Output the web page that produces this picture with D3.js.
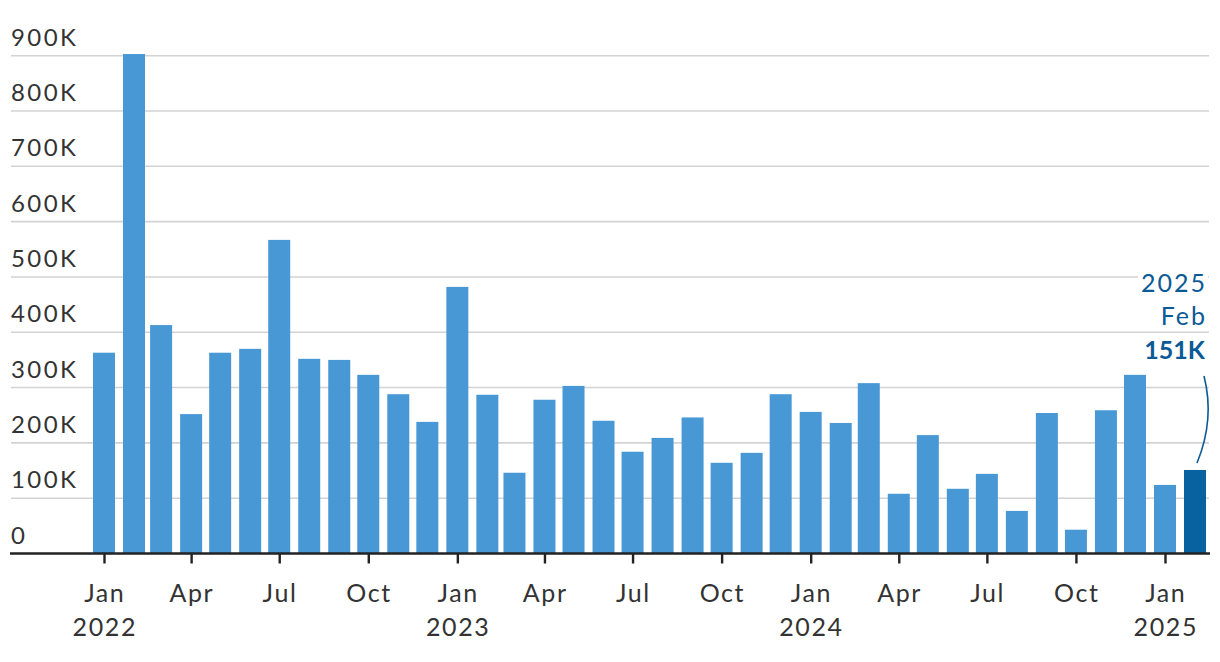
<!DOCTYPE html>
<html><head><meta charset="utf-8">
<script src="https://cdn.jsdelivr.net/npm/d3@7"></script>
<style>
html,body{margin:0;padding:0;background:#fff;}
svg{display:block;font-family:Lato,"Open Sans",sans-serif;}
</style></head>
<body><svg id="chart" width="1220" height="662"></svg>
<script>
// ---- data ----
const months = ["2022-01","2022-02","2022-03","2022-04","2022-05","2022-06","2022-07","2022-08","2022-09","2022-10","2022-11","2022-12",
"2023-01","2023-02","2023-03","2023-04","2023-05","2023-06","2023-07","2023-08","2023-09","2023-10","2023-11","2023-12",
"2024-01","2024-02","2024-03","2024-04","2024-05","2024-06","2024-07","2024-08","2024-09","2024-10","2024-11","2024-12",
"2025-01","2025-02"];
const values = [363,903,413,252,363,370,567,352,350,323,288,238,
482,287,146,278,303,240,184,209,246,164,182,288,
256,236,308,108,214,117,144,77,254,43,259,323,
124,151]; // thousands
const yTicks = [0,100,200,300,400,500,600,700,800,900];
const yTickLabels = ["0","100K","200K","300K","400K","500K","600K","700K","800K","900K"];
const xTickMonths = ["2022-01","2022-04","2022-07","2022-10","2023-01","2023-04","2023-07","2023-10","2024-01","2024-04","2024-07","2024-10","2025-01"];
const annotationLines = ["2025","Feb","151K"];

const parse = s => { const [y,m] = s.split("-").map(Number); return new Date(Date.UTC(y, m-1, 1)); };
const monthNames = ["Jan","Feb","Mar","Apr","May","Jun","Jul","Aug","Sep","Oct","Nov","Dec"];

const svg = d3.select("#chart");
const x = d3.scaleUtc().domain([parse(months[0]), parse(months[months.length-1])]).range([104, 1195]);
const y = d3.scaleLinear().domain([0, 900]).range([553.5, 55.7]);
const barW = 22;
const gridX0 = 11, gridX1 = 1209;

// gridlines
svg.append("g").selectAll("line").data(yTicks.filter(d=>d>0)).join("line")
  .attr("x1", gridX0).attr("x2", gridX1)
  .attr("y1", d=>y(d)).attr("y2", d=>y(d))
  .attr("stroke", "#d3d3d3").attr("stroke-width", 1.6);

// y labels
svg.append("g").selectAll("text").data(yTicks).join("text")
  .attr("x", gridX0).attr("y", d=>y(d)-10)
  .attr("fill", "#333").attr("font-size", 24).attr("letter-spacing", 2.4)
  .text((d,i)=>yTickLabels[i]);

// bars
const last = months.length-1;
svg.append("g").selectAll("rect").data(months).join("rect")
  .attr("x", d=>x(parse(d))-barW/2)
  .attr("width", barW)
  .attr("y", (d,i)=>y(values[i]))
  .attr("height", (d,i)=>y(0)-y(values[i]))
  .attr("fill", (d,i)=> i===last ? "#0862a0" : "#4898d6");

// x axis
const xAxis = d3.axisBottom(x)
  .tickValues(xTickMonths.map(parse))
  .tickSize(10).tickSizeOuter(0).tickPadding(0)
  .tickFormat("");
const gx = svg.append("g").attr("transform", `translate(0,${y(0)})`).call(xAxis);
gx.select(".domain").remove();
gx.selectAll(".tick line").attr("stroke", "#222").attr("stroke-width", 2.4);
svg.append("line").attr("x1", 10).attr("x2", gridX1+1).attr("y1", y(0)).attr("y2", y(0))
  .attr("stroke", "#222").attr("stroke-width", 2.6);

const xl = svg.append("g").selectAll("g").data(xTickMonths).join("g");
xl.append("text").attr("x", d=>x(parse(d))+0.8).attr("y", 602)
  .attr("text-anchor","middle").attr("fill","#333").attr("font-size",25).attr("letter-spacing", 1.6)
  .text(d=>monthNames[parse(d).getUTCMonth()]);
xl.filter(d=>parse(d).getUTCMonth()===0).append("text")
  .attr("x", d=>x(parse(d))+0.8).attr("y", 636)
  .attr("text-anchor","middle").attr("fill","#333").attr("font-size",25).attr("letter-spacing", 1.6)
  .text(d=>parse(d).getUTCFullYear());

// annotation
const lastX = x(parse(months[last]));
const ann = svg.append("g");
const annY = [292, 325, 359];
annotationLines.forEach((t,i)=>{
  const tx = ann.append("text").attr("x", i===2 ? 1205 : 1207).attr("y", annY[i])
    .attr("text-anchor","end").attr("fill","#0b5a96").attr("font-size",25)
    .attr("letter-spacing", i===2 ? 0 : 2)
    .attr("font-weight", i===2 ? 700 : 400).text(t);
  const bb = tx.node().getBBox();
  ann.insert("rect", "text").attr("x", bb.x-3).attr("y", bb.y+2).attr("width", bb.width+4).attr("height", bb.height-4).attr("fill","#fff");
});
const topY = y(values[last]) - 7, endY = 376;
ann.append("path")
  .attr("d", `M${lastX+2},${topY} Q${lastX+20},${(topY+endY)/2} ${lastX+9},${endY}`)
  .attr("fill","none").attr("stroke","#0b5a96").attr("stroke-width",1.6);
</script></body></html>
